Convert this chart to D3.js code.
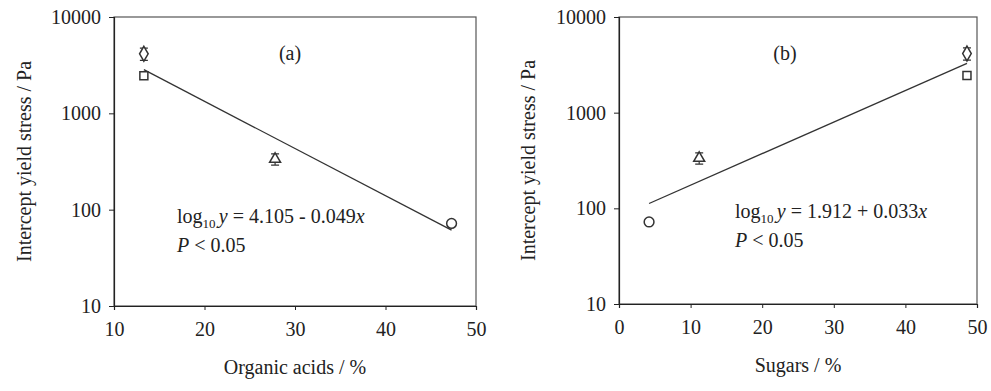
<!DOCTYPE html>
<html>
<head>
<meta charset="utf-8">
<script src="https://cdn.jsdelivr.net/npm/d3@7"></script>
<style>
  body { margin: 0; background: #fff; }
  svg text { font-family: "Liberation Serif", "Times New Roman", serif; fill: #222; font-size: 20px; }
  svg .tick text { font-family: "Liberation Serif", serif; font-size: 20px; }
</style>
</head>
<body>
<svg id="chart" width="991" height="391"></svg>
<script>
// values
const organicAcids = [13.3, 13.3, 27.8, 47.3];
const sugars = [48.6, 48.6, 11.2, 4.2];
const yieldStress = [4150, 2450, 335, 72];
const yieldErr = [600, 0, 45, 0];
const shapes = ["diamond", "square", "triangle", "circle"];

const yTicks = [10, 100, 1000, 10000];
const xTicksA = [10, 20, 30, 40, 50];
const xTicksB = [0, 10, 20, 30, 40, 50];

const fitIntercept = [4.105, 1.912];
const fitSlope = [-0.049, 0.033];

const svg = d3.select("#chart");

const symbols = {
    diamond: d3.symbol(d3.symbolDiamond, 64),
    square: d3.symbol(d3.symbolSquare, 64),
    triangle: d3.symbol(d3.symbolTriangle, 52),
    circle: d3.symbol(d3.symbolCircle, 75)
};

function drawPanel(p) {
    const x = d3.scaleLinear().domain(p.xDomain).range([p.left, p.right]);
    const y = d3.scaleLog().domain([10, 10000]).range([p.bottom, p.top]);

    // frame
    svg.append("rect")
        .attr("x", p.left).attr("y", p.top)
        .attr("width", p.right - p.left).attr("height", p.bottom - p.top)
        .attr("fill", "none").attr("stroke", "#555").attr("stroke-width", 1.2);

    const gx = svg.append("g")
        .attr("transform", "translate(0," + p.bottom + ")")
        .call(d3.axisBottom(x).tickValues(p.xTicks).tickSize(4).tickPadding(12).tickFormat(d3.format("d")));
    const gy = svg.append("g")
        .attr("transform", "translate(" + p.left + ",0)")
        .call(d3.axisLeft(y).tickValues(yTicks).tickSize(5).tickPadding(8).tickFormat(d3.format("d")));

    [gx, gy].forEach(g => {
        g.attr("font-family", null).attr("font-size", null);
        g.select(".domain").attr("stroke", "#222").attr("stroke-width", 1.2);
        g.selectAll(".tick line").attr("stroke", "#222");
        g.selectAll(".tick text").style("fill", "#222");
    });

    // regression line
    const xs = d3.extent(p.xs);
    const fit = xs.map(v => [v, Math.pow(10, p.b0 + p.b1 * v)]);
    svg.append("path")
        .attr("d", d3.line().x(d => x(d[0])).y(d => y(d[1]))(fit))
        .attr("stroke", "#333").attr("stroke-width", 1.3).attr("fill", "none");

    // error bars
    p.xs.forEach((v, i) => {
        if (!yieldErr[i]) return;
        const cx = x(v);
        const y1 = y(yieldStress[i] + yieldErr[i]);
        const y0 = y(yieldStress[i] - yieldErr[i]);
        svg.append("path")
            .attr("d", `M${cx},${y0}V${y1}M${cx - 4},${y1}H${cx + 4}M${cx - 4},${y0}H${cx + 4}`)
            .attr("stroke", "#333").attr("stroke-width", 1.2).attr("fill", "none");
    });

    // markers
    svg.append("g").selectAll("path")
        .data(p.xs)
        .join("path")
        .attr("transform", (d, i) => "translate(" + x(d) + "," + y(yieldStress[i]) + ")")
        .attr("d", (d, i) => symbols[shapes[i]]())
        .attr("fill", "#fff").attr("stroke", "#333").attr("stroke-width", 1.5);

    // panel tag
    svg.append("text")
        .attr("x", p.tagX).attr("y", 60)
        .attr("text-anchor", "middle")
        .text(p.tag);

    // equation
    const eq = svg.append("text")
        .attr("x", p.eqX).attr("y", p.eqY);
    eq.append("tspan").text("log");
    eq.append("tspan").style("font-size", "13px").attr("dy", 5).text("10.");
    eq.append("tspan").attr("dy", -5).attr("font-style", "italic").text("y");
    eq.append("tspan").text(p.eqText);
    eq.append("tspan").attr("font-style", "italic").text("x");

    const pv = svg.append("text")
        .attr("x", p.eqX).attr("y", p.eqY + 29);
    pv.append("tspan").attr("font-style", "italic").text("P");
    pv.append("tspan").text(" < 0.05");

    // axis titles
    svg.append("text")
        .attr("x", (p.left + p.right) / 2).attr("y", p.xLabelY)
        .attr("text-anchor", "middle")
        .text(p.xLabel);
    svg.append("text")
        .attr("transform", "translate(" + p.yLabelX + "," + (p.top + p.bottom) / 2 + ") rotate(-90)")
        .attr("text-anchor", "middle")
        .text("Intercept yield stress / Pa");
}

drawPanel({
    left: 114, right: 476, top: 17, bottom: 306,
    xDomain: [10, 50], xTicks: xTicksA, xs: organicAcids,
    b0: fitIntercept[0], b1: fitSlope[0],
    tag: "(a)", tagX: 290,
    eqX: 177, eqY: 223, eqText: " = 4.105 - 0.049",
    xLabel: "Organic acids / %", xLabelY: 374, yLabelX: 31
});

drawPanel({
    left: 619, right: 977, top: 17, bottom: 304,
    xDomain: [0, 50], xTicks: xTicksB, xs: sugars,
    b0: fitIntercept[1], b1: fitSlope[1],
    tag: "(b)", tagX: 785,
    eqX: 735, eqY: 218, eqText: " = 1.912 + 0.033",
    xLabel: "Sugars / %", xLabelY: 372, yLabelX: 535
});
</script>
</body>
</html>
